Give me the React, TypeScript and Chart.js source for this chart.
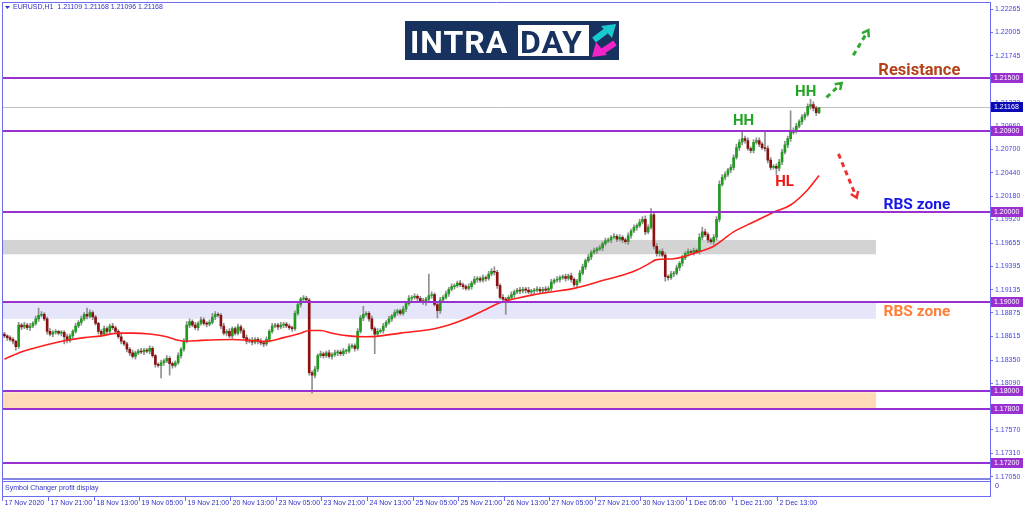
import React, { useEffect, useRef } from "react";
import { Chart, registerables } from "chart.js";

Chart.register(...registerables);

// ---- DATA ----
const symbolTitle = "EURUSD,H1  1.21109 1.21168 1.21096 1.21168";
const firstOpen = 1.1864;
const closes = [
  1.1862, 1.1860, 1.1858, 1.1856, 1.1850, 1.1874, 1.1872, 1.1874, 1.1871, 1.1873,
  1.1876, 1.1881, 1.1885, 1.1886, 1.1881, 1.1867, 1.1864, 1.1866, 1.1867, 1.1865,
  1.1866, 1.1861, 1.1857, 1.1862, 1.1867, 1.1873, 1.1877, 1.1881, 1.1886, 1.1884,
  1.1888, 1.1883, 1.1876, 1.1867, 1.1864, 1.1870, 1.1867, 1.1873, 1.1871, 1.1867,
  1.1861, 1.1856, 1.1853, 1.1847, 1.1843, 1.1839, 1.1843, 1.1845, 1.1844, 1.1846,
  1.1845, 1.1848, 1.1840, 1.1830, 1.1829, 1.1832, 1.1834, 1.1837, 1.1831, 1.1829,
  1.1832, 1.1840, 1.1847, 1.1856, 1.1874, 1.1878, 1.1874, 1.1871, 1.1876, 1.1880,
  1.1876, 1.1875, 1.1877, 1.1883, 1.1886, 1.1885, 1.1873, 1.1865, 1.1867, 1.1862,
  1.1870, 1.1865, 1.1872, 1.1868, 1.1860, 1.1856, 1.1857, 1.1855, 1.1858, 1.1856,
  1.1854, 1.1853, 1.1858, 1.1867, 1.1873, 1.1874, 1.1872, 1.1874, 1.1875, 1.1873,
  1.1871, 1.1870, 1.1887, 1.1897, 1.1903, 1.1904, 1.1902, 1.1821, 1.1818, 1.1825,
  1.1840, 1.1842, 1.1840, 1.1843, 1.1839, 1.1841, 1.1843, 1.1844, 1.1842, 1.1845,
  1.1845, 1.1850, 1.1851, 1.1848, 1.1867, 1.1882, 1.1886, 1.1887, 1.1881, 1.1870,
  1.1864, 1.1867, 1.1868, 1.1873, 1.1877, 1.1881, 1.1884, 1.1888, 1.1890, 1.1887,
  1.1892, 1.1898, 1.1904, 1.1905, 1.1906, 1.1904, 1.1901, 1.1899, 1.1903, 1.1907,
  1.1908, 1.1897, 1.1890, 1.1902, 1.1905, 1.1909, 1.1914, 1.1917, 1.1918, 1.1921,
  1.1919, 1.1917, 1.1915, 1.1917, 1.1921, 1.1925, 1.1926, 1.1924, 1.1927, 1.1926,
  1.1931, 1.1934, 1.1933, 1.1918, 1.1905, 1.1903, 1.1902, 1.1905, 1.1908, 1.1911,
  1.1913, 1.1912, 1.1914, 1.1913, 1.1911, 1.1912, 1.1913, 1.1914, 1.1912, 1.1914,
  1.1913, 1.1915, 1.1922, 1.1924, 1.1925, 1.1927, 1.1928, 1.1926, 1.1929, 1.1925,
  1.1919, 1.1923, 1.1932, 1.1939, 1.1946, 1.1950, 1.1955, 1.1957, 1.1959, 1.1960,
  1.1965, 1.1968, 1.1969, 1.1972, 1.1973, 1.1970, 1.1972, 1.1969, 1.1967, 1.1974,
  1.1979, 1.1983, 1.1985, 1.1989, 1.1992, 1.1978, 1.1983, 1.1997, 1.1962, 1.1954,
  1.1956, 1.1952, 1.1928, 1.1927, 1.1931, 1.1932, 1.1938, 1.1943, 1.1949, 1.1954,
  1.1956, 1.1955, 1.1957, 1.1956, 1.1972, 1.1978, 1.1975, 1.1969, 1.1967, 1.1972,
  1.1992, 1.2031, 1.2039, 1.2042, 1.2047, 1.2050, 1.2061, 1.2072, 1.2078, 1.2082,
  1.2080, 1.2071, 1.2069, 1.2078, 1.2080, 1.2076, 1.2072, 1.2071, 1.2058, 1.2050,
  1.2051, 1.2049, 1.2056, 1.2067, 1.2075, 1.2082, 1.2089, 1.2091, 1.2096, 1.2101,
  1.2106, 1.2109, 1.2118, 1.2120, 1.2116, 1.21109, 1.21168,
];
// wick lengths beyond the body, in pips
const upperWickPips = [
  2, 1, 2, 2, 1, 3, 2, 3, 2, 3, 2, 3, 8, 3, 2, 2, 3, 2, 2, 1,
  2, 2, 3, 2, 2, 3, 2, 3, 2, 7, 3, 2, 2, 1, 2, 3, 2, 2, 3, 2,
  2, 3, 1, 2, 2, 3, 2, 2, 3, 2, 2, 3, 2, 1, 2, 3, 2, 3, 2, 2,
  2, 3, 2, 3, 4, 3, 2, 3, 2, 3, 2, 2, 3, 4, 3, 2, 2, 3, 2, 3,
  2, 2, 3, 2, 2, 3, 2, 3, 2, 2, 3, 2, 3, 2, 3, 2, 2, 3, 2, 2,
  2, 2, 3, 3, 2, 3, 2, 2, 2, 3, 2, 3, 2, 2, 3, 2, 3, 2, 2, 3,
  2, 3, 2, 2, 3, 3, 9, 2, 2, 3, 2, 3, 2, 3, 2, 3, 2, 3, 2, 2,
  3, 2, 3, 2, 3, 2, 2, 3, 2, 24, 3, 2, 2, 3, 2, 3, 2, 3, 2, 2,
  3, 2, 2, 3, 2, 3, 2, 2, 3, 2, 3, 3, 5, 2, 2, 3, 2, 2, 3, 2,
  2, 3, 2, 2, 3, 2, 2, 3, 2, 2, 3, 2, 3, 2, 3, 2, 2, 3, 2, 3,
  2, 2, 3, 3, 2, 3, 2, 3, 2, 3, 2, 3, 2, 2, 3, 2, 3, 2, 2, 3,
  2, 3, 2, 3, 3, 4, 3, 7, 3, 3, 2, 3, 3, 2, 3, 2, 3, 2, 3, 2,
  3, 2, 3, 2, 4, 5, 3, 2, 2, 3, 3, 4, 3, 3, 2, 3, 3, 4, 3, 7,
  3, 3, 2, 3, 3, 3, 2, 19, 3, 3, 2, 3, 3, 3, 4, 3, 24, 3, 3, 2,
  3, 2, 3, 6, 3, 2, 0,
];
const lowerWickPips = [
  2, 3, 2, 3, 4, 2, 3, 2, 2, 3, 2, 2, 3, 2, 2, 3, 2, 3, 2, 2,
  3, 8, 3, 2, 3, 2, 2, 3, 2, 3, 2, 3, 2, 3, 3, 2, 3, 2, 2, 3,
  2, 3, 2, 3, 3, 2, 3, 2, 2, 3, 2, 3, 2, 3, 2, 14, 3, 2, 13, 3,
  2, 2, 3, 2, 2, 3, 2, 2, 3, 2, 2, 3, 2, 2, 3, 2, 3, 2, 3, 2,
  3, 2, 2, 3, 2, 3, 2, 3, 2, 3, 2, 3, 2, 3, 2, 2, 3, 2, 3, 2,
  2, 3, 2, 2, 3, 2, 3, 3, 20, 3, 3, 2, 3, 2, 2, 3, 2, 3, 2, 2,
  3, 2, 2, 3, 2, 2, 3, 2, 3, 2, 22, 3, 2, 3, 2, 2, 3, 2, 3, 2,
  2, 3, 2, 3, 2, 3, 2, 2, 3, 2, 3, 2, 8, 3, 2, 2, 3, 2, 3, 2,
  2, 3, 2, 2, 3, 2, 3, 2, 2, 3, 2, 2, 3, 3, 2, 2, 16, 3, 2, 3,
  2, 3, 2, 3, 2, 3, 3, 2, 3, 2, 3, 2, 3, 2, 2, 3, 2, 3, 2, 3,
  2, 3, 2, 2, 3, 2, 3, 2, 3, 2, 3, 2, 2, 3, 2, 3, 2, 3, 2, 3,
  3, 2, 3, 2, 2, 3, 2, 2, 3, 3, 3, 2, 5, 3, 2, 3, 2, 3, 3, 2,
  3, 2, 3, 2, 3, 3, 2, 3, 2, 3, 3, 3, 2, 3, 2, 3, 3, 2, 3, 3,
  3, 2, 3, 3, 2, 3, 2, 3, 3, 3, 2, 7, 3, 3, 2, 3, 3, 2, 3, 2,
  3, 3, 2, 3, 3, 3, 1,
];
// moving average (read at selected bars)
const maBars = [0, 5, 10, 16, 22, 28, 34, 40, 45, 51, 57, 61, 64, 69, 80, 86, 92, 98, 104, 107, 111, 115, 121, 127, 132, 139, 151, 156, 162, 168, 174, 180, 186, 192, 200, 205, 209, 215, 221, 226, 229, 235, 244, 249, 256, 263, 270, 276, 282, 286];
const maValues = [1.1836, 1.1843, 1.1848, 1.1853, 1.1857, 1.1860, 1.1862, 1.1865, 1.1865, 1.1864, 1.1861, 1.1857, 1.1856, 1.1857, 1.1858, 1.1857, 1.1856, 1.1860, 1.1865, 1.1868, 1.1868, 1.1865, 1.1862, 1.1861, 1.1862, 1.1865, 1.1870, 1.1874, 1.1881, 1.1890, 1.1899, 1.1904, 1.1908, 1.1911, 1.1915, 1.1919, 1.1923, 1.1928, 1.1934, 1.1942, 1.1947, 1.1948, 1.1956, 1.1962, 1.1978, 1.1989, 1.2000, 1.2008, 1.2025, 1.2041];
const priceTicks = [1.22265, 1.22005, 1.21745, 1.21485, 1.2122, 1.2096, 1.207, 1.2044, 1.2018, 1.1992, 1.19655, 1.19395, 1.19135, 1.18875, 1.18615, 1.1835, 1.1809, 1.1783, 1.1757, 1.1731, 1.1705];
const levelLines = [1.215, 1.209, 1.2, 1.19, 1.18, 1.178, 1.172];
const currentPrice = 1.21168;
const timeLabels = ["17 Nov 2020", "17 Nov 21:00", "18 Nov 13:00", "19 Nov 05:00", "19 Nov 21:00", "20 Nov 13:00", "23 Nov 05:00", "23 Nov 21:00", "24 Nov 13:00", "25 Nov 05:00", "25 Nov 21:00", "26 Nov 13:00", "27 Nov 05:00", "27 Nov 21:00", "30 Nov 13:00", "1 Dec 05:00", "1 Dec 21:00", "2 Dec 13:00"];
const timeLabelBars = [0, 16, 32, 48, 64, 80, 96, 112, 128, 144, 160, 176, 192, 208, 224, 240, 256, 272];
const grayZone = [1.1969, 1.1953];
const lavenderZone = [1.1899, 1.1881];
const peachZone = [1.1799, 1.1781];
const zoneEndBar = 306;
const annotations = [
  { text: "HH", bar: 259.5, price: 1.2101, color: "#23a323", align: "center", size: 15 },
  { text: "HH", bar: 281.3, price: 1.2134, color: "#23a323", align: "center", size: 15 },
  { text: "HL", bar: 273.9, price: 1.2033, color: "#f01414", align: "center", size: 15 },
  { text: "Resistance", bar: 306.8, price: 1.2158, color: "#b3431c", align: "left", size: 16.5 },
  { text: "RBS zone", bar: 308.6, price: 1.2008, color: "#1717e8", align: "left", size: 15.5 },
  { text: "RBS zone", bar: 308.6, price: 1.1888, color: "#ff7f3a", align: "left", size: 15.5 },
];
const arrows = [
  { from: [288.6, 1.2128], to: [293.9, 1.2144], color: "#2ea82e" },
  { from: [298.0, 1.2175], to: [303.3, 1.2203], color: "#2ea82e" },
  { from: [292.8, 1.2065], to: [299.2, 1.2016], color: "#f03030" },
];

const opens = closes.map((c, i) => (i === 0 ? firstOpen : closes[i - 1]));
const PIP = 0.0001;

function drawArrow(ctx: CanvasRenderingContext2D, x1: number, y1: number, x2: number, y2: number, color: string) {
  const ang = Math.atan2(y2 - y1, x2 - x1);
  const len = Math.hypot(x2 - x1, y2 - y1);
  ctx.save();
  ctx.strokeStyle = color;
  ctx.lineWidth = 3;
  ctx.lineCap = "butt";
  ctx.setLineDash([5, 4]);
  ctx.beginPath();
  ctx.moveTo(x1, y1);
  ctx.lineTo(x1 + Math.cos(ang) * (len - 2), y1 + Math.sin(ang) * (len - 2));
  ctx.stroke();
  ctx.setLineDash([]);
  ctx.lineWidth = 2.5;
  ctx.beginPath();
  const h = 7;
  ctx.moveTo(x2 - Math.cos(ang - 0.6) * h, y2 - Math.sin(ang - 0.6) * h);
  ctx.lineTo(x2, y2);
  ctx.lineTo(x2 - Math.cos(ang + 0.6) * h, y2 - Math.sin(ang + 0.6) * h);
  ctx.stroke();
  ctx.restore();
}

const overlay = {
  id: "overlay",
  beforeDatasetsDraw(chart: any) {
    const { ctx, chartArea: a, scales } = chart;
    const y = scales.y;
    const x = scales.x;
    const xr = x.getPixelForValue(zoneEndBar);
    ctx.save();
    const zone = (z: number[], color: string) => {
      const t = y.getPixelForValue(z[0]);
      const b = y.getPixelForValue(z[1]);
      ctx.fillStyle = color;
      ctx.fillRect(a.left, t, xr - a.left, b - t);
    };
    zone(grayZone, "#d3d3d3");
    zone(lavenderZone, "#e6e6fa");
    zone(peachZone, "#ffdab9");
    const cp = Math.round(y.getPixelForValue(currentPrice)) + 0.5;
    ctx.strokeStyle = "#c0c0c0";
    ctx.lineWidth = 1;
    ctx.beginPath();
    ctx.moveTo(a.left, cp);
    ctx.lineTo(a.right, cp);
    ctx.stroke();
    ctx.restore();
  },
  afterDatasetsDraw(chart: any) {
    const { ctx, chartArea: a, scales } = chart;
    const y = scales.y;
    ctx.save();
    ctx.strokeStyle = "#9b30d0";
    ctx.lineWidth = 2;
    levelLines.forEach((v) => {
      const py = Math.round(y.getPixelForValue(v));
      ctx.beginPath();
      ctx.moveTo(a.left, py);
      ctx.lineTo(a.right, py);
      ctx.stroke();
    });
    ctx.restore();
  },
  afterDraw(chart: any) {
    const { ctx, chartArea: a, scales } = chart;
    const y = scales.y;
    const x = scales.x;
    ctx.save();
    ctx.strokeStyle = "#6c6cf0";
    ctx.lineWidth = 1;
    ctx.beginPath();
    ctx.moveTo(2.5, 2);
    ctx.lineTo(2.5, 497);
    ctx.moveTo(2, 2.5);
    ctx.lineTo(a.right + 1, 2.5);
    ctx.moveTo(a.right + 0.5, 2);
    ctx.lineTo(a.right + 0.5, 497);
    ctx.moveTo(2, 496.5);
    ctx.lineTo(a.right + 1, 496.5);
    ctx.stroke();
    ctx.fillStyle = "#8585e8";
    ctx.fillRect(3, a.bottom, a.right - 3, 2);
    ctx.strokeStyle = "#6c6cf0";
    ctx.beginPath();
    ctx.moveTo(3, a.bottom + 3.5);
    ctx.lineTo(a.right, a.bottom + 3.5);
    ctx.stroke();

    ctx.fillStyle = "#3030c8";
    ctx.font = "7px 'Liberation Sans'";
    ctx.textBaseline = "middle";
    ctx.textAlign = "left";
    ctx.fillText(symbolTitle, 13, 7.5);
    ctx.beginPath();
    ctx.moveTo(5, 6);
    ctx.lineTo(10, 6);
    ctx.lineTo(7.5, 9);
    ctx.closePath();
    ctx.fill();
    ctx.fillText("Symbol Changer profit display", 5, 488);
    ctx.fillText("0", 995, 486);

    ctx.strokeStyle = "#6c6cf0";
    timeLabelBars.forEach((b, i) => {
      const px = Math.round(x.getPixelForValue(b)) - 1.5;
      ctx.beginPath();
      ctx.moveTo(px, 497);
      ctx.lineTo(px, 501);
      ctx.stroke();
      ctx.fillText(timeLabels[i], px + 2, 503.5);
    });

    const box = (v: number, bg: string) => {
      const py = Math.round(y.getPixelForValue(v));
      ctx.fillStyle = bg;
      ctx.fillRect(a.right + 1, py - 5, 32, 10);
      ctx.fillStyle = "#ffffff";
      ctx.font = "7px 'Liberation Sans'";
      ctx.textAlign = "left";
      ctx.fillText(v.toFixed(5), a.right + 4, py + 0.5);
    };
    levelLines.forEach((v) => box(v, "#9b30d0"));
    box(currentPrice, "#0a0ab4");

    annotations.forEach((t) => {
      ctx.font = `bold ${t.size}px Roboto`;
      ctx.fillStyle = t.color;
      ctx.textAlign = t.align as CanvasTextAlign;
      ctx.fillText(t.text, x.getPixelForValue(t.bar), y.getPixelForValue(t.price));
    });
    arrows.forEach((r) => {
      drawArrow(ctx, x.getPixelForValue(r.from[0]), y.getPixelForValue(r.from[1]), x.getPixelForValue(r.to[0]), y.getPixelForValue(r.to[1]), r.color);
    });

    // logo
    ctx.fillStyle = "#17325f";
    ctx.fillRect(405, 21, 214, 39);
    ctx.fillStyle = "#ffffff";
    ctx.fillRect(518, 25, 71, 31);
    ctx.font = "bold 32px Roboto";
    ctx.textAlign = "left";
    ctx.textBaseline = "alphabetic";
    (ctx as any).letterSpacing = "1px";
    ctx.fillText("INTRA", 410, 53, 106);
    ctx.fillStyle = "#17325f";
    ctx.fillText("DAY", 520, 53, 68);
    (ctx as any).letterSpacing = "0px";
    ctx.strokeStyle = "#19c9d0";
    ctx.fillStyle = "#19c9d0";
    ctx.lineWidth = 6;
    ctx.beginPath();
    ctx.moveTo(594, 40);
    ctx.lineTo(606, 31);
    ctx.stroke();
    ctx.beginPath();
    ctx.moveTo(616, 24);
    ctx.lineTo(601, 26);
    ctx.lineTo(612, 38);
    ctx.closePath();
    ctx.fill();
    ctx.strokeStyle = "#f024c8";
    ctx.fillStyle = "#f024c8";
    ctx.beginPath();
    ctx.moveTo(615, 43);
    ctx.lineTo(603, 51);
    ctx.stroke();
    ctx.beginPath();
    ctx.moveTo(592, 57);
    ctx.lineTo(596, 42);
    ctx.lineTo(607, 55);
    ctx.closePath();
    ctx.fill();
    ctx.restore();
  },
};

export default function App() {
  const ref = useRef<HTMLCanvasElement | null>(null);
  useEffect(() => {
    if (!ref.current) return;
    const bodies = closes.map((c, i) => ({ x: i, y: [opens[i], c] }));
    const wicks = closes.map((c, i) => ({
      x: i,
      y: [Math.min(opens[i], c) - lowerWickPips[i] * PIP, Math.max(opens[i], c) + upperWickPips[i] * PIP],
    }));
    const bodyColors = closes.map((c, i) => (c >= opens[i] ? "#1f9a1f" : "#8b1010"));
    const chart = new Chart(ref.current, {
      type: "bar",
      data: {
        datasets: [
          {
            type: "line",
            data: maBars.map((b, i) => ({ x: b, y: maValues[i] })),
            borderColor: "#ff1e1e",
            borderWidth: 1.6,
            pointRadius: 0,
            cubicInterpolationMode: "monotone",
            order: 0,
          } as any,
          {
            type: "bar",
            data: bodies,
            backgroundColor: bodyColors,
            borderWidth: 0,
            barThickness: 2,
            grouped: false,
            minBarLength: 1,
            order: 1,
          } as any,
          {
            type: "bar",
            data: wicks,
            backgroundColor: "#8f8f8f",
            borderWidth: 0,
            barThickness: 1,
            grouped: false,
            order: 2,
          } as any,
        ],
      },
      options: {
        responsive: false,
        animation: false,
        devicePixelRatio: 1,
        events: [],
        layout: { padding: { left: 3, top: 3, right: 0, bottom: 33 } },
        plugins: { legend: { display: false }, tooltip: { enabled: false } },
        scales: {
          x: { type: "linear", min: -0.5, max: 346, display: false, offset: false },
          y: {
            position: "right",
            min: 1.17034,
            max: 1.22298,
            afterFit: (s: any) => {
              s.width = 34;
            },
            afterBuildTicks: (s: any) => {
              s.ticks = priceTicks.map((v) => ({ value: v }));
            },
            ticks: {
              callback: (v: any) => Number(v).toFixed(5),
              color: "#4646dc",
              font: { family: "'Liberation Sans'", size: 7 },
              padding: 2,
              autoSkip: false,
            },
            grid: { drawOnChartArea: false, color: "#6c6cf0", tickLength: 3 },
            border: { display: false },
          },
        },
      } as any,
      plugins: [overlay],
    });
    return () => chart.destroy();
  }, []);
  return (
    <div style={{ position: "fixed", left: 0, top: 0, width: 1024, height: 511, background: "#fff" }}>
      <canvas ref={ref} width={1024} height={511} style={{ display: "block" }} />
    </div>
  );
}
